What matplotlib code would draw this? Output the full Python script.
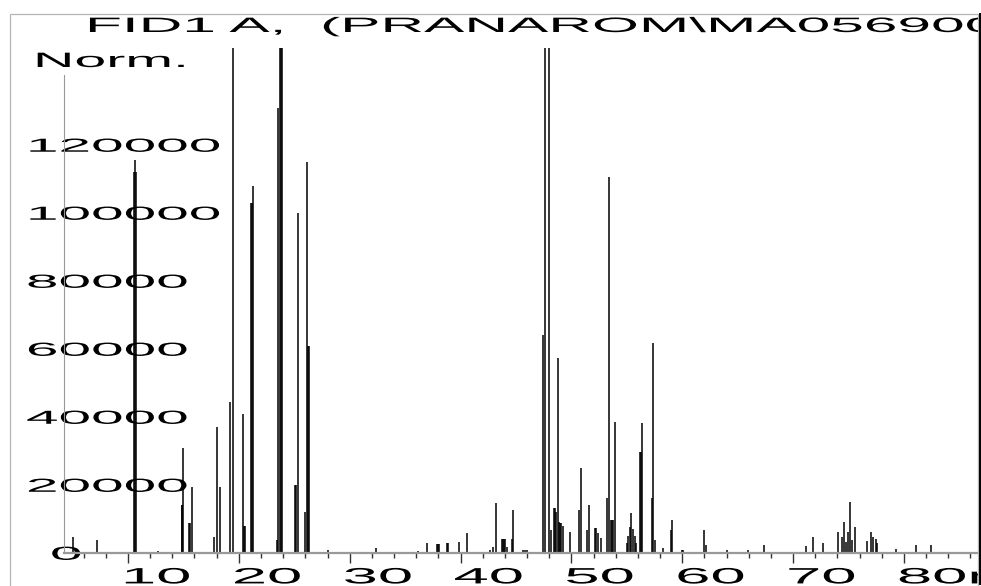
import matplotlib
matplotlib.use('Agg')
import matplotlib.pyplot as plt
from matplotlib.patheffects import AbstractPathEffect
from matplotlib.transforms import Affine2D, Bbox, TransformedBbox
from matplotlib.lines import Line2D
from matplotlib.patches import Rectangle

plt.rcParams['font.family'] = ['Liberation Sans', 'DejaVu Sans']

title = 'FID1 A,  (PRANAROM\\MA0569001.D)'
y_title = 'Norm.'

x_major = [10, 20, 30, 40, 50, 60, 70, 80]
x_labels = ['10', '20', '30', '40', '50', '60', '70', '80min']
x_minor = [6, 8, 12, 14, 16, 18, 22, 24, 26, 28, 32, 34, 36, 38, 42, 44, 46, 48,
           52, 54, 56, 58, 62, 64, 66, 68, 72, 74, 76, 78, 82, 84, 86]
y_ticks = [0, 20000, 40000, 60000, 80000, 100000, 120000]
y_labels = ['0', '20000', '40000', '60000', '80000', '100000', '120000']

# retention time (min) and signal of each peak edge
peak_rt = [5.0, 7.18,
           10.55, 10.63, 10.7, 12.7,
           14.84, 14.9, 14.99, 15.53, 15.6, 15.74,
           17.8, 18.0, 18.3, 19.2, 19.45,
           20.4, 20.5, 20.55, 21.1, 21.2, 21.3,
           23.4, 23.55, 23.7, 23.8, 23.9,
           25.1, 25.15, 25.3, 25.97, 26.17, 26.25, 26.32,
           28.0, 32.4, 36.2, 36.95, 37.9, 38.0, 38.1, 38.8, 38.9, 39.9, 40.55,
           42.7, 42.9, 43.2, 43.7, 43.8, 43.9, 44.0, 44.15, 44.6, 44.75,
           45.6, 45.8, 46.0,
           47.4, 47.62, 47.98, 48.13,
           48.45, 48.55, 48.65, 48.8, 48.9, 49.0, 49.1, 49.2,
           49.87, 50.7, 50.9,
           51.4, 51.6, 52.1, 52.25, 52.4, 52.7,
           53.2, 53.35, 53.6, 53.7, 53.75, 53.93,
           55.0, 55.15, 55.3, 55.4, 55.55, 55.7, 55.85,
           56.2, 56.3, 56.4, 57.25, 57.4, 57.55, 58.3,
           58.98, 59.05, 59.95, 60.1,
           61.96, 62.1, 64.0, 65.95, 67.4,
           71.2, 71.8, 72.7,
           74.07, 74.4, 74.6, 74.8, 74.97, 75.1, 75.35, 75.6,
           76.7, 77.0, 77.2, 77.5, 77.6,
           79.3, 81.1, 82.4]
peak_h = [4700, 3800,
          112000, 115600, 112000, 600,
          14100, 14100, 31000, 8800, 8800, 19400,
          4700, 37000, 19400, 44400, 170000,
          41000, 7900, 7900, 103000, 103000, 108000,
          3800, 131000, 170000, 170000, 170000,
          20000, 20000, 100000, 12000, 115000, 61000, 61000,
          1000, 1500, 600, 3000, 2700, 2700, 2700, 3000, 3000, 3200, 5900,
          800, 1800, 14700, 4100, 4100, 4100, 4100, 1800, 4000, 12500,
          1000, 800, 1000,
          64000, 170000, 170000, 6800,
          13200, 13200, 12000, 57300, 9000, 8800, 8800, 8000,
          6200, 12600, 25000,
          6700, 14100, 7300, 7300, 6000, 4400,
          16100, 110600, 9700, 9700, 9700, 38500,
          3000, 5000, 7500, 11800, 7000, 5000, 3000,
          29700, 29700, 38200, 16100, 61700, 3800, 1500,
          6700, 9700, 1000, 900,
          6700, 2300, 800, 800, 2300,
          2000, 4700, 2900,
          6200, 4700, 9100, 3200, 6200, 15000, 3800, 7600,
          3500, 6200, 4700, 4100, 2900,
          1200, 2300, 2300]


class Stretch(AbstractPathEffect):
    # widen glyphs sideways like the old ChemStation printout font
    def __init__(self, sx, dx=0, dy=0):
        super().__init__()
        self.sx = sx
        self.dx = dx
        self.dy = dy

    def draw_path(self, renderer, gc, tpath, affine, rgbFace=None):
        t = Affine2D().scale(self.sx, 1) + affine + Affine2D().translate(self.dx, self.dy)
        renderer.draw_path(gc, tpath, t, rgbFace)


W, H = 981, 586
fig = plt.figure(figsize=(W / 100, H / 100), dpi=100)
ax = fig.add_axes([64 / W, 33 / H, 914 / W, 505 / H])

ax.vlines(peak_rt, 0, peak_h, colors='black', linewidth=1.1)

ax.set_xlim(4.23, 86.68)
ax.set_ylim(0, 148500)

for s in ['top', 'right']:
    ax.spines[s].set_visible(False)
ax.spines['left'].set_color('#999999')
ax.spines['left'].set_linewidth(0.8)
ax.spines['left'].set_bounds(0, 140600)
ax.spines['bottom'].set_color('#999999')
ax.spines['bottom'].set_linewidth(1.6)

ax.set_xticks(x_major, x_labels)
ax.set_xticks(x_minor, minor=True)
ax.tick_params(axis='x', which='major', length=7.2, width=1.0, color='#333333',
               pad=16.0, labelsize=16)
ax.tick_params(axis='x', which='minor', length=3.6, width=1.0, color='#333333')
ax.set_yticks(y_ticks, y_labels)
ax.tick_params(axis='y', length=0, pad=27.4, labelsize=13.6)

clip = TransformedBbox(Bbox.from_extents(10 / W, 0, 978 / W, 1), fig.transFigure)

for lab in ax.get_xticklabels():
    lab.set_ha('left')
    lab.set_va('bottom')
    lab.set_path_effects([Stretch(2.85, dx=-7, dy=-3.2)])
    lab.set_clip_box(clip)
    lab.set_clip_on(True)

for lab in ax.get_yticklabels():
    lab.set_ha('left')
    lab.set_va('baseline')
    shift = 24 if lab.get_text() == '0' else 0
    lab.set_path_effects([Stretch(3.1, dx=shift, dy=-6.8)])

t = fig.text(85 / W, 1 - 32 / H, title, ha='left', va='baseline', fontsize=15,
             path_effects=[Stretch(2.9)])
t.set_clip_box(clip)
t.set_clip_on(True)
fig.text(33 / W, 1 - 67 / H, y_title, ha='left', va='baseline', fontsize=15,
         path_effects=[Stretch(2.75)])

# printout frame
fig.add_artist(Rectangle((10 / W, -0.02), 968 / W, 1 - 14 / H + 0.02,
                         transform=fig.transFigure, fill=False,
                         edgecolor='#b5b5b5', linewidth=0.9))
fig.add_artist(Line2D([979.5 / W, 979.5 / W], [1 - 14 / H, 1 - 584 / H],
                      transform=fig.transFigure, color='black', linewidth=1.4))

fig.savefig('out.png', dpi=100)
